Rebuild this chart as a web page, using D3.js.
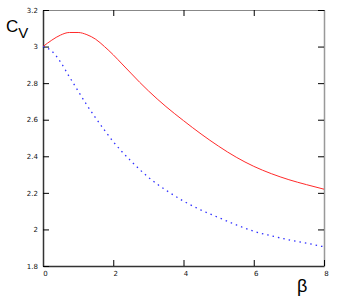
<!DOCTYPE html>
<html>
<head>
<meta charset="utf-8">
<script src="https://d3js.org/d3.v7.min.js"></script>
<style>
  body { margin: 0; background: #fff; }
  .tick text { font-family: "DejaVu Sans", sans-serif; font-size: 7px; fill: #111; }
</style>
</head>
<body>
<script>
/* Data */
var betaValues = [0, 0.25, 0.5, 0.75, 1, 1.25, 1.5, 1.75, 2, 2.25, 2.5, 2.75, 3, 3.5, 4, 4.5, 5, 5.5, 6, 6.5, 7, 7.5, 8];
var redCv  = [3.0, 3.035, 3.063, 3.077, 3.077, 3.065, 3.04, 3.0, 2.955, 2.905, 2.855, 2.805, 2.758, 2.672, 2.595, 2.522, 2.455, 2.395, 2.345, 2.305, 2.272, 2.245, 2.22];
var blueCv = [3.0, 2.975, 2.915, 2.835, 2.757, 2.68, 2.61, 2.543, 2.48, 2.425, 2.375, 2.328, 2.285, 2.215, 2.155, 2.106, 2.065, 2.025, 1.99, 1.965, 1.943, 1.925, 1.905];
var xTicks = [0, 2, 4, 6, 8];
var yTicks = [1.8, 2, 2.2, 2.4, 2.6, 2.8, 3, 3.2];

/* Define width and height */
var width = 338,
    height = 302;
var plotLeft = 43, plotRight = 324, plotTop = 10, plotBottom = 266;

var svg = d3.select("body").append("svg")
    .attr("width", width)
    .attr("height", height);

/* Scales */
var x = d3.scaleLinear().domain([0, 8]).range([plotLeft, plotRight]);
var y = d3.scaleLinear().domain([1.8, 3.2]).range([plotBottom, plotTop]);

/* Mirrored axes: top and right without labels, lighter frame */
var gTop = svg.append("g")
    .attr("transform", "translate(0," + plotTop + ")")
    .call(d3.axisTop(x).tickValues(xTicks).tickSizeInner(-6).tickSizeOuter(0).tickFormat(""));
gTop.select(".domain").attr("stroke", "#888");

var gRight = svg.append("g")
    .attr("transform", "translate(" + plotRight + ",0)")
    .call(d3.axisRight(y).tickValues(yTicks).tickSizeInner(-6).tickSizeOuter(0).tickFormat(""));
gRight.select(".domain").attr("stroke", "#999").attr("stroke-width", 1.5);

var gBottom = svg.append("g")
    .attr("transform", "translate(0," + plotBottom + ")")
    .call(d3.axisBottom(x).tickValues(xTicks).tickSizeInner(-6).tickSizeOuter(0).tickFormat(d3.format("d")));
gBottom.select(".domain").attr("stroke", "#333").attr("stroke-width", 1.5);
gBottom.selectAll(".tick text").attr("y", 5).attr("dy", "0.71em").attr("dx", 2);

var gLeft = svg.append("g")
    .attr("transform", "translate(" + plotLeft + ",0)")
    .call(d3.axisLeft(y).tickValues(yTicks).tickSizeInner(-6).tickSizeOuter(0).tickFormat(d3.format("~g")));
gLeft.select(".domain").attr("stroke", "#333").attr("stroke-width", 1.5);
gLeft.selectAll(".tick text").attr("x", -5);

/* Curves */
var cvLine = d3.line()
    .x(function(d, i) { return x(betaValues[i]); })
    .y(function(d) { return y(d); })
    .curve(d3.curveMonotoneX);

svg.append("path")
    .datum(redCv)
    .attr("d", cvLine)
    .attr("fill", "none")
    .attr("stroke", "#ff2a2a")
    .attr("stroke-width", 1);

svg.append("path")
    .datum(blueCv)
    .attr("d", cvLine)
    .attr("fill", "none")
    .attr("stroke", "#3030ff")
    .attr("stroke-width", 1.3)
    .attr("stroke-dasharray", "1.5,4");

/* Axis titles */
var cv = svg.append("text")
    .attr("x", 6)
    .attr("y", 32)
    .attr("font-family", "Liberation Sans, Arial, sans-serif")
    .attr("font-size", 17)
    .attr("fill", "#000");
cv.append("tspan").text("C");
cv.append("tspan").attr("font-size", 15).attr("dy", 6).text("V");

svg.append("text")
    .attr("x", 297)
    .attr("y", 292)
    .attr("font-family", "Liberation Sans, Arial, sans-serif")
    .attr("font-size", 18)
    .attr("fill", "#000")
    .text("β");
</script>
</body>
</html>
